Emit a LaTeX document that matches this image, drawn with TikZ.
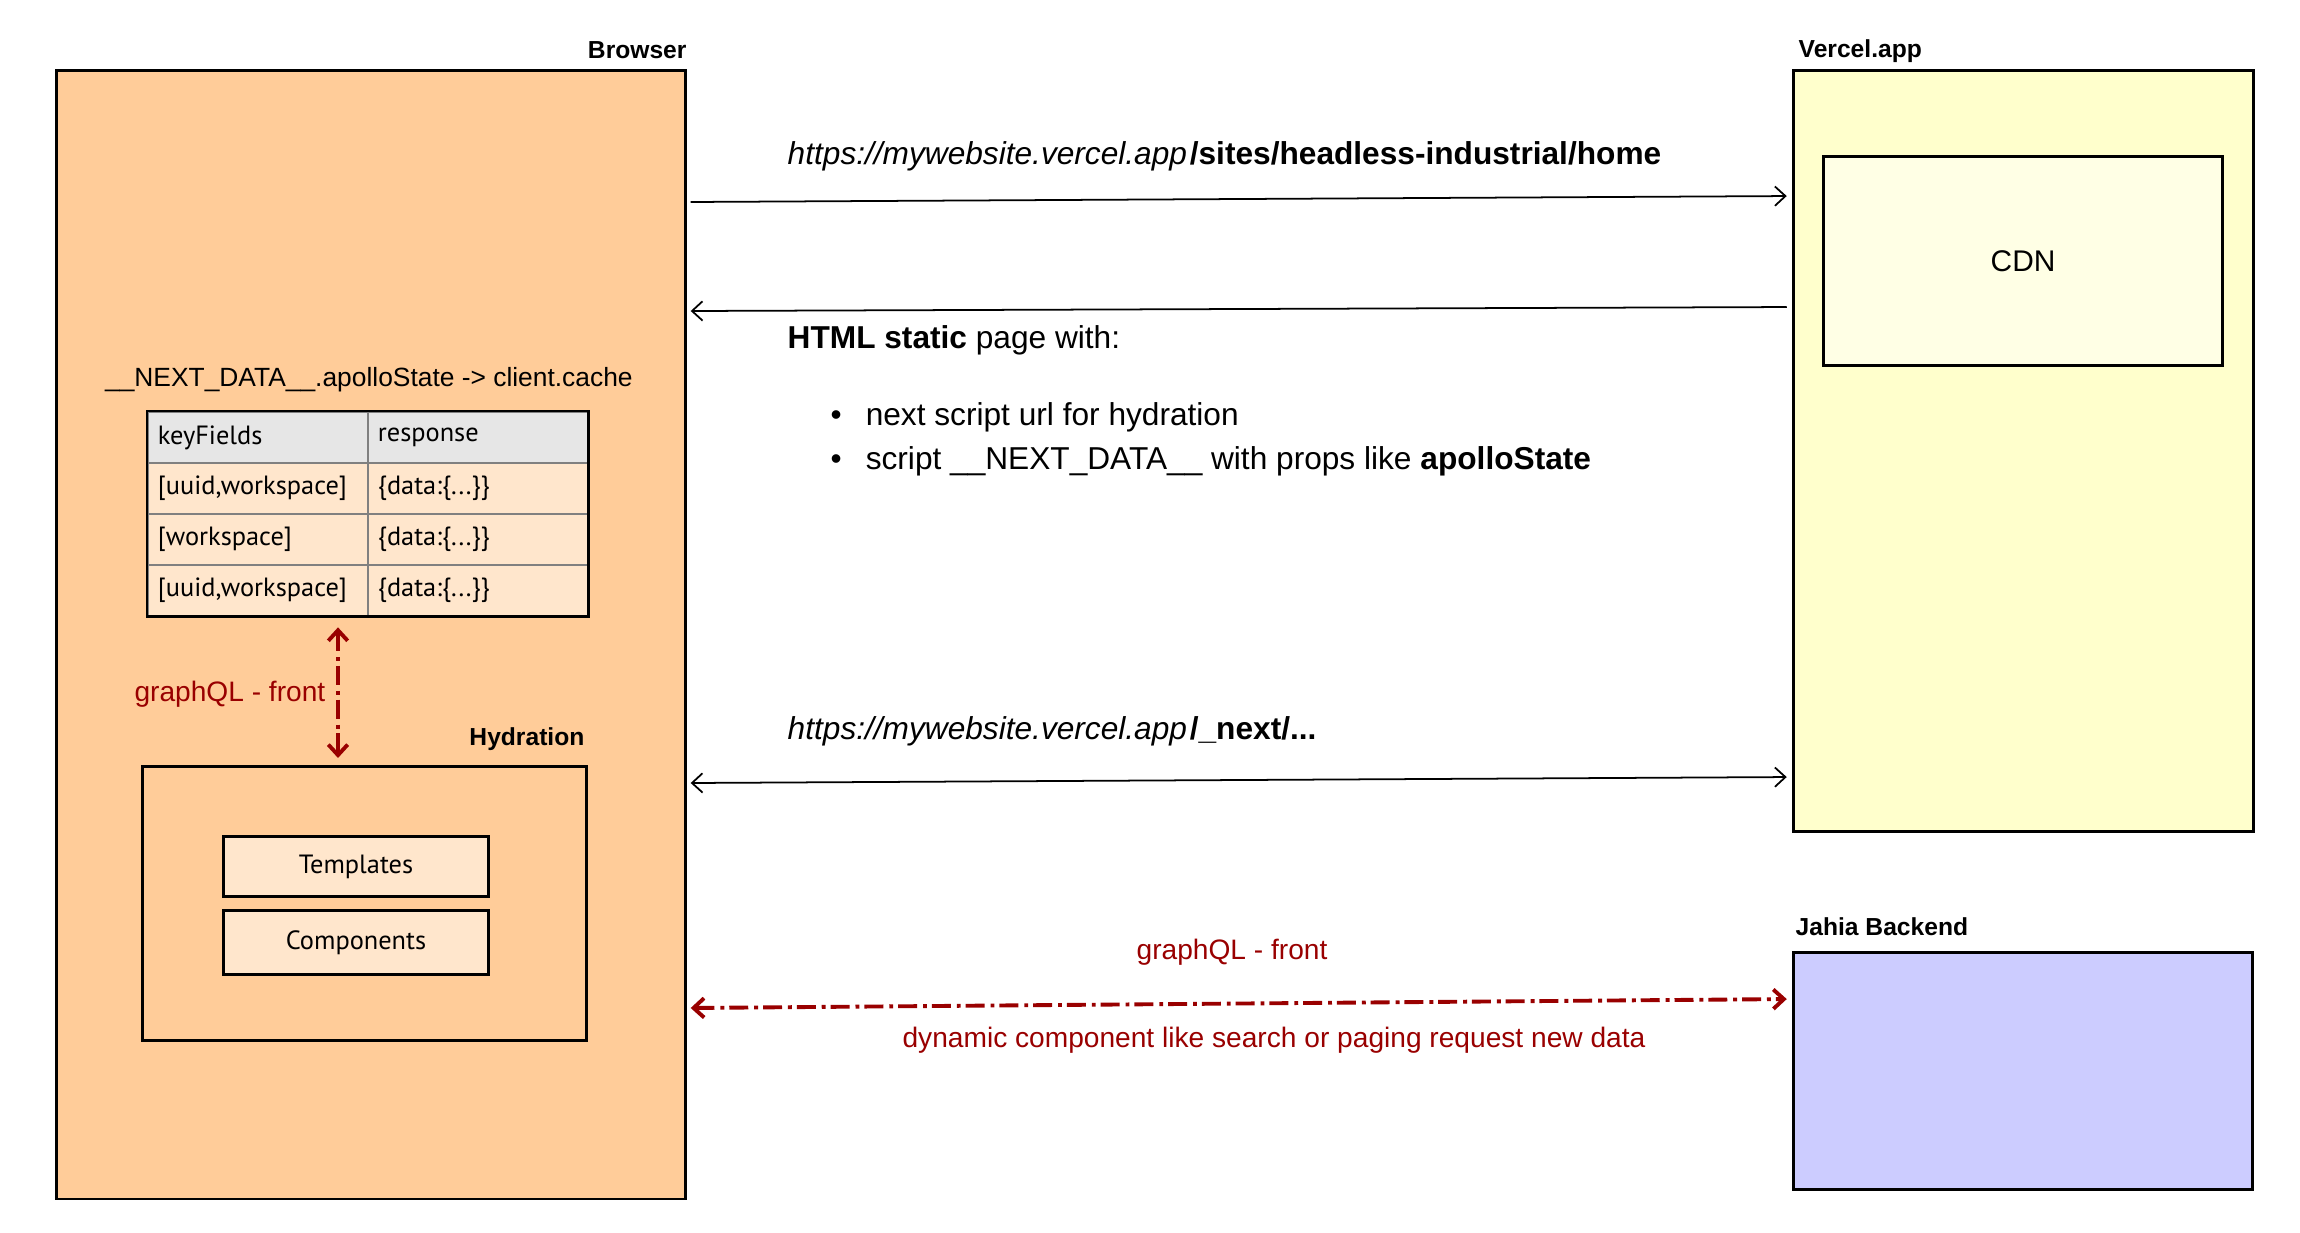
\documentclass[tikz,border=0pt]{standalone}
\usepackage{fontspec}
\setmainfont{Liberation Sans}
\newfontfamily\handfont{PT Sans}
\usetikzlibrary{positioning,calc,arrows.meta}

\definecolor{browserfill}{HTML}{FFCC99}
\definecolor{vercelfill}{HTML}{FFFFCC}
\definecolor{cdnfill}{HTML}{FFFFE5}
\definecolor{jahiafill}{HTML}{CCCCFF}
\definecolor{cellfill}{HTML}{FFE6CC}
\definecolor{headfill}{HTML}{E6E6E6}
\definecolor{gqlred}{HTML}{990000}

\begin{document}
\begin{tikzpicture}[x=0.01cm, y=-0.01cm,
    >={Straight Barb[length=3pt,width=5.5pt]},
    box/.style={draw, line width=0.8pt, rectangle, inner sep=0pt, anchor=north west},
    cell/.style={draw=gray, line width=0.5pt, anchor=north west, inner xsep=0.1cm, inner ysep=0pt,
        text width=2.0cm, minimum height=0.51cm, align=left, font=\handfont\fontsize{7.5}{9}\selectfont},
    part/.style={box, fill=cellfill, minimum width=2.65cm, font=\handfont\fontsize{7.5}{9}\selectfont},
    title/.style={inner sep=0pt, font=\bfseries\fontsize{7}{8}\selectfont},
    txt/.style={anchor=west, inner sep=0pt, font=\fontsize{9}{11}\selectfont},
    link/.style={line width=0.5pt},
    gql/.style={draw=gqlred, line width=1.1pt, dash pattern=on 5.4pt off 1.7pt on 1.1pt off 1.4pt, <->},
    gqltext/.style={inner sep=0pt, text=gqlred, font=\fontsize{8}{10}\selectfont}
]
    \useasboundingbox (0,0) rectangle (2300,1232);

    % Browser side
    \node[box, fill=browserfill, minimum width=6.29cm, minimum height=11.28cm] (browser) at (55,69) {};
    \node[title, above left=1mm and 0mm of browser.north east] (browserlbl) {Browser};

    % apollo cache table
    \node[cell, fill=headfill] (key0) at (147,411) {keyFields};
    \node[cell, fill=headfill] (resp0) at (367,411) {response};
    \foreach \key [count=\i] in {{[uuid,workspace]},{[workspace]},{[uuid,workspace]}} {
        \node[cell, fill=cellfill] (key\i) at (147,{411+51*\i}) {\key};
        \node[cell, fill=cellfill] (resp\i) at (367,{411+51*\i}) {\{data:\{...\}\}};
    }
    \draw[line width=0.8pt] (key0.north west) rectangle (resp3.south east);
    \node[inner sep=0pt, font=\fontsize{7.5}{9}\selectfont, above=1.8mm of key0.north east] (cachelbl)
        {\_\_NEXT\_DATA\_\_.apolloState -> client.cache};

    % Hydration
    \node[box, minimum width=4.44cm, minimum height=2.74cm] (hydra) at (141,765) {};
    \node[title, above left=1.4mm and 0.03cm of hydra.north east] (hydralbl) {Hydration};
    \node[part, minimum height=0.6cm] (templates) at (222,835) {Templates};
    \node[part, minimum height=0.64cm] (components) at (222,909) {Components};

    \coordinate (gqlx) at (338,0);
    \draw[gql, shorten <=3pt, shorten >=2pt] (key3.south -| gqlx) -- (hydra.north -| gqlx);
    \node[gqltext, anchor=east] (gqlfront1) at (326,694) {graphQL - front};

    % Vercel side
    \node[box, fill=vercelfill, minimum width=4.6cm, minimum height=7.61cm] (vercel) at (1792,69) {};
    \node[title, anchor=base west] (vercellbl) at (1798,57) {Vercel.app};
    \node[box, fill=cdnfill, minimum width=3.99cm, minimum height=2.09cm, font=\fontsize{8.5}{10}\selectfont] (cdn) at (1822,155) {CDN};

    % Jahia
    \node[box, fill=jahiafill, minimum width=4.59cm, minimum height=2.37cm] (jahia) at (1792,951) {};
    \node[title, above right=1.5mm and 0.03cm of jahia.north west] (jahialbl) {Jahia Backend};

    % requests
    \draw[link, ->, shorten <=1pt, shorten >=1.5pt] (browser.east |- 0,202) -- (vercel.west |- 0,196);
    \node[txt] (url1) at (787,156) {\textit{https://mywebsite.vercel.app}\kern0.8pt\textbf{/sites/headless-industrial/home}};

    \draw[link, ->, shorten <=1.5pt, shorten >=1pt] (vercel.west |- 0,307) -- (browser.east |- 0,311);
    \node[txt] (html) at (787,340) {\textbf{HTML static} page with:};
    \node[txt] (item1) at (830,417) {\textbullet\hspace{2.4mm}next script url for hydration};
    \node[txt] (item2) at (830,461) {\textbullet\hspace{2.4mm}script \_\_NEXT\_DATA\_\_ with props like \textbf{apolloState}};

    \draw[link, <->, shorten <=1pt, shorten >=1.5pt] (browser.east |- 0,783) -- (vercel.west |- 0,777);
    \node[txt] (url2) at (787,731) {\textit{https://mywebsite.vercel.app}\kern0.8pt\textbf{/\_next/...}};

    \draw[gql, shorten <=1pt, shorten >=1.5pt] (browser.east |- 0,1008) -- (jahia.west |- 0,999);
    \node[gqltext] (gqlfront2) at (1232,952) {graphQL - front};
    \node[gqltext] (dynlbl) at (1274,1040) {dynamic component like search or paging request new data};
\end{tikzpicture}
\end{document}
